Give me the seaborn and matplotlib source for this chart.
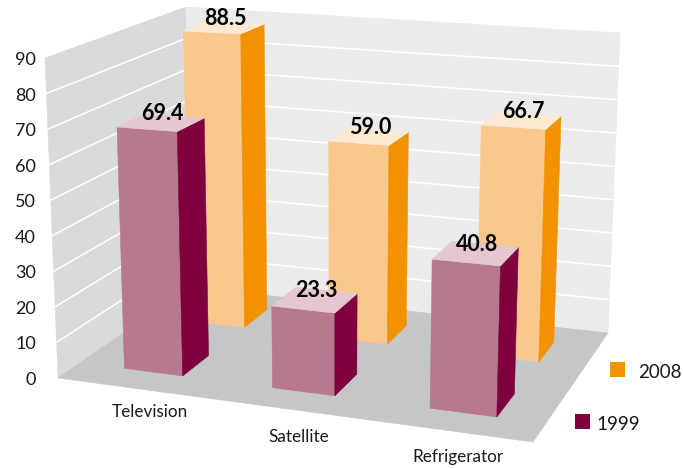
import numpy as np
import matplotlib
matplotlib.use("Agg")
import matplotlib.pyplot as plt
import seaborn as sns
from matplotlib.patches import Rectangle

categories = ["Television", "Satellite", "Refrigerator"]
values_1999 = [69.4, 23.3, 40.8]
values_2008 = [88.5, 59.0, 66.7]
y_ticks = [0, 10, 20, 30, 40, 50, 60, 70, 80, 90]

sns.set_theme(style="white")
plt.rcParams["font.family"] = ["Lato", "DejaVu Sans"]

C_LEFT, C_BACK, C_FLOOR = "#D9DADC", "#EBEBEB", "#C5C6C8"
STYLE = {
    1999: dict(front="#B8788F", side="#7E003C", top="#E5C7D0"),
    2008: dict(front="#FAC88C", side="#F39200", top="#FDE8D2"),
}
ZMAX = 90.0


def homography(corners):
    A, b = [], []
    for (u, v), (x, y) in zip([(0, 0), (1, 0), (1, 1), (0, 1)], corners):
        A.append([u, v, 1, 0, 0, 0, -u * x, -v * x]); b.append(x)
        A.append([0, 0, 0, u, v, 1, -u * y, -v * y]); b.append(y)
    return np.append(np.linalg.solve(np.array(A, float), np.array(b, float)), 1).reshape(3, 3)


# scene geometry: front-left, front-right, back-right, back-left
H_FLOOR = homography([(58, 378), (533, 442), (608, 333), (190, 287)])
H_CEIL = homography([(45, 58), (543, 104), (620, 33), (186, 7)])
VANISH = np.array([334.0, 7180.0, 1.0])   # vertical vanishing point
HEIGHT = -0.04493                         # camera height factor at ZMAX


def wall(u, v, z):
    """Position on the chart walls, between floor and ceiling outlines."""
    out = []
    for H in (H_FLOOR, H_CEIL):
        p = H @ np.array([u, v, 1.0])
        out.append(p[:2] / p[2])
    t = z / ZMAX
    return tuple((1 - t) * out[0] + t * out[1])


def cam(u, v, z):
    """True perspective position for the bars."""
    p = H_FLOOR @ np.array([u, v, 1.0]) + (z / ZMAX) * HEIGHT * VANISH
    return tuple(p[:2] / p[2])


fig = plt.figure(figsize=(6.83, 4.68), dpi=100)
ax = fig.add_axes([0, 0, 1, 1])
ax.set_xlim(0, 683)
ax.set_ylim(468, 0)
ax.axis("off")


def face(pts, color, zo):
    ax.fill(*zip(*pts), color=color, lw=0.4, zorder=zo)


face([wall(0, 0, 0), wall(0, 1, 0), wall(0, 1, ZMAX), wall(0, 0, ZMAX)], C_LEFT, 1)
face([wall(0, 1, 0), wall(1, 1, 0), wall(1, 1, ZMAX), wall(0, 1, ZMAX)], C_BACK, 1)
face([wall(0, 0, 0), wall(1, 0, 0), wall(1, 1, 0), wall(0, 1, 0)], C_FLOOR, 1.5)

for z in y_ticks[1:-1]:
    for a, b in [((0, 0), (0, 1)), ((0, 1), (1, 1))]:
        p, q = wall(*a, z), wall(*b, z)
        ax.plot([p[0], q[0]], [p[1], q[1]], color="white", lw=1.1, zorder=1.2)
for z in y_ticks:
    ax.text(36, wall(0, 0, z)[1] + 2, str(z), ha="right", va="center",
            fontsize=13, color="#1a1a1a", zorder=5)

HALF_W, HALF_D = 0.067, 0.10


def bar(uc, vc, val, style, zo):
    u0, u1, v0, v1 = uc - HALF_W, uc + HALF_W, vc - HALF_D, vc + HALF_D
    face([cam(u0, v0, 0), cam(u1, v0, 0), cam(u1, v0, val), cam(u0, v0, val)], style["front"], zo)
    face([cam(u1, v0, 0), cam(u1, v1, 0), cam(u1, v1, val), cam(u1, v0, val)], style["side"], zo)
    face([cam(u0, v0, val), cam(u1, v0, val), cam(u1, v1, val), cam(u0, v1, val)], style["top"], zo)
    cx, cy = cam(uc, vc, val)
    ax.annotate(f"{val:.1f}", (cx, cy), xytext=(1.5, 9), textcoords="offset pixels",
                ha="center", va="center", fontsize=15.5, fontweight="bold",
                color="black", zorder=6)


centres = [0.171, 0.505, 0.837]
for uc, val in zip(centres, values_2008):
    bar(uc, 0.75, val, STYLE[2008], 2)
for uc, val in zip(centres, values_1999):
    bar(uc, 0.25, val, STYLE[1999], 3)

label_off = [(18, 24), (13, 28), (9, 26)]
for uc, name, (dx, dy) in zip(centres, categories, label_off):
    x, y = wall(uc, 0, 0)
    ax.text(x + dx, y + dy, name, ha="center", va="center", fontsize=12.3, color="#1a1a1a")

for x, y, tx, ty, year in [(610, 362, 638, 373, 2008), (575, 414, 596, 424, 1999)]:
    ax.add_patch(Rectangle((x, y), 15, 15, color=STYLE[year]["side"], lw=0))
    ax.text(tx, ty, str(year), ha="left", va="center", fontsize=13.5, color="#1a1a1a")

fig.savefig("out.png", dpi=100)
